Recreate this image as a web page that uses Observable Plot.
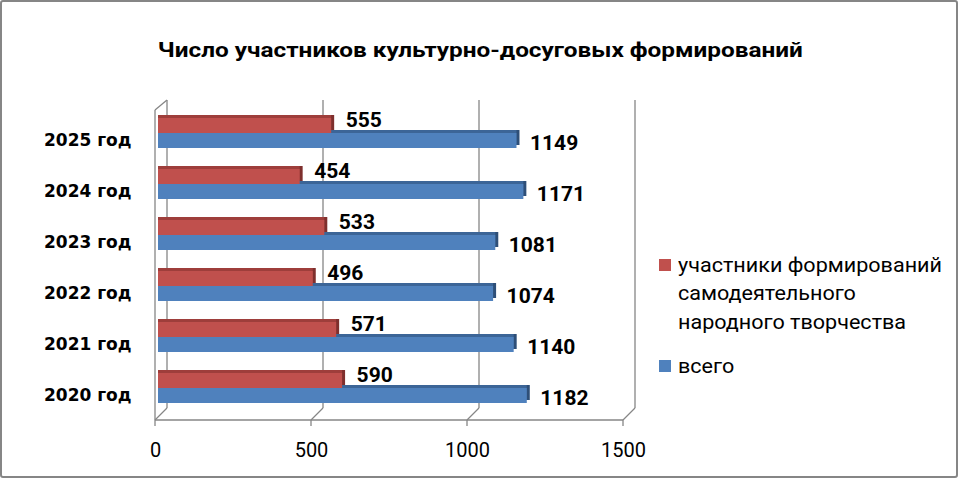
<!DOCTYPE html>
<html>
<head>
<meta charset="utf-8">
<script src="https://cdn.jsdelivr.net/npm/d3@7"></script>
<script src="https://cdn.jsdelivr.net/npm/@observablehq/plot@0.6"></script>
<style>
html, body { margin: 0; padding: 0; background: #fff; }
#wrap { position: relative; width: 960px; height: 480px; overflow: hidden; background: #fff; }
#chart { position: absolute; left: 0; top: 0; }
#border { position: absolute; left: 0; top: 0; width: 954px; height: 474px; border: 2px solid #868686; border-radius: 3px; pointer-events: none; }
#title { position: absolute; left: 0; width: 960px; top: 38px; text-align: center; font-family: Roboto, sans-serif; font-weight: bold; font-size: 21px; line-height: 24px; color: #000; white-space: nowrap; }
#title span { display: inline-block; transform-origin: center; }
.item { position: absolute; left: 659px; display: flex; align-items: flex-start; font-family: Roboto, sans-serif; font-size: 20px; line-height: 28.5px; color: #000; }
.sw { width: 12px; height: 12px; margin-top: 8px; margin-right: 7px; flex: none; }
.lines div { white-space: nowrap; transform-origin: left center; }
</style>
</head>
<body>
<div id="wrap">
  <div id="chart"></div>
  <div id="title"><span id="titleText"></span></div>
  <div id="legend"></div>
  <div id="border"></div>
</div>
<script>
// ---- data ----
const years = ["2020 год", "2021 год", "2022 год", "2023 год", "2024 год", "2025 год"];
const uchastniki = [590, 571, 496, 533, 454, 555];
const vsego = [1182, 1140, 1074, 1081, 1171, 1149];
const xTicks = [0, 500, 1000, 1500];
const seriesNames = ["участники формирований самодеятельного народного творчества", "всего"];
const legendLines = [["участники формирований", "самодеятельного", "народного творчества"], ["всего"]];
const titleText = "Число участников культурно-досуговых формирований";

// ---- colours ----
const red = "#C0504D", redTop = "#9E3E3B", redEnd = "#7E2F2D";
const blue = "#4F81BD", blueTop = "#3C6597", blueEnd = "#2E4F78";
const gridColor = "#868686";

const rows = years.map((year, i) => ({year, red: uchastniki[i], blue: vsego[i]}));

// 3D walls / floor drawn from the x scale and plot dimensions
function walls(index, scales, values, dims) {
  const x = scales.x;
  const off = 12, rise = 10;
  const floor = dims.height - dims.marginBottom;
  const backTop = dims.marginTop;
  const g = d3.create("svg:g")
    .attr("fill", "none").attr("stroke", gridColor).attr("stroke-width", 1.3);
  for (const t of xTicks) {
    // back gridlines
    g.append("line").attr("x1", x(t) + off).attr("x2", x(t) + off)
      .attr("y1", backTop).attr("y2", floor - off);
    // floor diagonals
    g.append("line").attr("x1", x(t)).attr("x2", x(t) + off)
      .attr("y1", floor).attr("y2", floor - off);
    // ticks
    g.append("line").attr("x1", x(t)).attr("x2", x(t))
      .attr("y1", floor).attr("y2", floor + 6);
  }
  // left wall front edge + top diagonal
  g.append("line").attr("x1", x(0)).attr("x2", x(0))
    .attr("y1", backTop + rise).attr("y2", floor);
  g.append("line").attr("x1", x(0)).attr("x2", x(0) + off)
    .attr("y1", backTop + rise).attr("y2", backTop);
  // floor front line
  g.append("line").attr("x1", x(0)).attr("x2", x(xTicks[xTicks.length - 1]))
    .attr("y1", floor).attr("y2", floor);
  return g.node();
}

const chart = Plot.plot({
  width: 960,
  height: 480,
  marginLeft: 155,
  marginRight: 337,
  marginTop: 100,
  marginBottom: 60,
  style: {background: "transparent", color: "#000"},
  x: {domain: [0, 1500], axis: null},
  y: {domain: years.slice().reverse(), range: [95.6, 425.4], padding: 0.416, axis: null},
  marks: [
    walls,
    // blue bars (bottom of each pair)
    Plot.barX(rows, {x: "blue", y: "year", insetTop: 15, fill: blueEnd, dx: 6, dy: -3}),
    Plot.barX(rows, {x: "blue", y: "year", insetTop: 15, fill: blueTop, dx: 3, dy: -3}),
    Plot.barX(rows, {x: "blue", y: "year", insetTop: 15, fill: blue, dx: 3}),
    // red bars (top of each pair)
    Plot.barX(rows, {x: "red", y: "year", insetBottom: 15, fill: redEnd, dx: 6, dy: -3}),
    Plot.barX(rows, {x: "red", y: "year", insetBottom: 15, fill: redTop, dx: 3, dy: -3}),
    Plot.barX(rows, {x: "red", y: "year", insetBottom: 15, fill: red, dx: 3}),
    // value labels
    Plot.text(rows, {x: "red", y: "year", text: d => String(d.red), dx: 17, dy: -13.5,
      textAnchor: "start", fontSize: 21, fontWeight: "bold", fontFamily: "Roboto", fill: "#000"}),
    Plot.text(rows, {x: "blue", y: "year", text: d => String(d.blue), dx: 16, dy: 9.5,
      textAnchor: "start", fontSize: 21, fontWeight: "bold", fontFamily: "Roboto", fill: "#000"}),
    // axes
    Plot.axisY({tickSize: 0, tickPadding: 24, fontSize: 17, fontWeight: "bold",
      fontFamily: "DejaVu Sans", dy: 7, label: null}),
    Plot.axisX({ticks: xTicks, tickSize: 0, tickPadding: 22, fontSize: 20,
      fontFamily: "Roboto", label: null, tickFormat: d => String(d)})
  ]
});
document.getElementById("chart").appendChild(chart);

// title (scaled to the reference width)
const tt = document.getElementById("titleText");
tt.textContent = titleText;
const w = tt.getBoundingClientRect().width;
tt.style.transform = `scaleX(${645 / w})`;

// legend
const legend = document.getElementById("legend");
const colors = [red, blue];
const tops = [250.75, 351.75];
seriesNames.forEach((name, i) => {
  const item = document.createElement("div");
  item.className = "item";
  item.style.top = tops[i] + "px";
  item.title = name;
  const sw = document.createElement("div");
  sw.className = "sw";
  sw.style.background = colors[i];
  const txt = document.createElement("div");
  txt.className = "lines";
  for (const line of legendLines[i]) {
    const l = document.createElement("div");
    l.textContent = line;
    txt.appendChild(l);
  }
  item.appendChild(sw);
  item.appendChild(txt);
  legend.appendChild(item);
});
// stretch the first legend line to the reference width (264px), same factor for all lines
const first = legend.querySelector(".lines div");
const s = 264 / first.getBoundingClientRect().width;
legend.querySelectorAll(".lines div").forEach(el => {
  el.style.display = "inline-block";
  el.style.transform = `scaleX(${s})`;
});
legend.querySelectorAll(".lines").forEach(el => { el.style.display = "flex"; el.style.flexDirection = "column"; el.style.alignItems = "flex-start"; });
</script>
</body>
</html>
